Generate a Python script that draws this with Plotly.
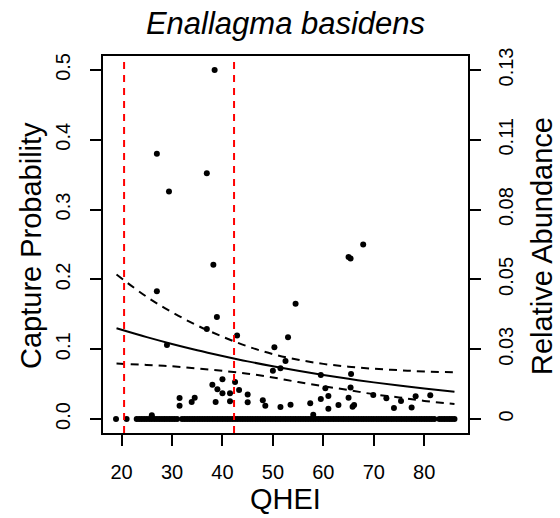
import plotly.graph_objects as go

# sites where the species was not captured (capture probability 0)
zero_qhei = [
    18.9, 21.0,
    23.0, 23.5, 24.0, 24.5, 25.0, 25.5, 26.0, 26.5, 27.0, 27.5, 28.0, 28.5,
    29.0, 29.5, 30.0, 30.5, 31.0,
    32.0, 32.5, 33.0, 33.5, 34.0, 34.5, 35.0, 35.5, 36.0, 36.5, 37.0, 37.5,
    38.0, 38.5, 39.0, 39.5, 40.0, 40.5, 41.0, 41.5, 42.0, 42.5, 43.0, 43.5,
    44.0, 44.5, 45.0, 45.5, 46.0, 46.5, 47.0, 47.5, 48.0, 48.5, 49.0, 49.5,
    50.0, 50.5, 51.0, 51.5, 52.0, 52.5, 53.0, 53.5, 54.0, 54.5, 55.0, 55.5,
    56.0, 56.5, 57.0, 57.5, 58.0, 58.5, 59.0, 59.5, 60.0, 60.5, 61.0, 61.5,
    62.0, 62.5, 63.0, 63.5, 64.0, 64.5, 65.0, 65.5, 66.0, 66.5, 67.0, 67.5,
    68.0, 68.5, 69.0, 69.5, 70.0, 70.5, 71.0, 71.5, 72.0, 72.5, 73.0, 73.5,
    74.0, 74.5, 75.0, 75.5, 76.0, 76.5, 77.0, 77.5, 78.0, 78.5, 79.0, 79.5,
    80.0, 80.5, 81.0, 81.5, 82.0,
    83.0, 83.5, 84.0, 84.5, 85.0, 85.5, 86.0,
]

# sites with captures
pos_qhei = [
    38.45, 27.0, 36.9, 29.4, 67.9, 65.0, 65.4, 38.2, 27.0, 54.5,
    38.9, 36.9, 29.0, 40.0, 38.0, 39.0, 40.0, 31.5, 34.5, 33.9,
    31.5, 38.65, 26.0, 42.9, 53.0, 50.3, 52.5, 51.5, 50.0, 59.5,
    42.5, 43.3, 41.5, 45.0, 60.4, 61.0, 59.5, 41.5, 45.0, 48.0,
    48.5, 51.5, 53.5, 57.4, 58.0, 61.0, 63.0, 65.5, 65.4, 65.0,
    65.8, 66.1, 69.9, 72.5, 75.4, 74.0, 77.5, 78.3, 81.2,
]
pos_prob = [
    0.500, 0.380, 0.352, 0.326, 0.250, 0.232, 0.230, 0.221, 0.183, 0.165,
    0.146, 0.129, 0.106, 0.057, 0.049, 0.0426, 0.037, 0.030, 0.0306, 0.0244,
    0.019, 0.0244, 0.0053, 0.1195, 0.117, 0.103, 0.083, 0.0727, 0.0693, 0.0631,
    0.053, 0.0416, 0.0368, 0.035, 0.044, 0.033, 0.0287, 0.0254, 0.024, 0.0268,
    0.019, 0.0172, 0.0205, 0.0225, 0.0062, 0.0148, 0.020, 0.0646, 0.045, 0.0306,
    0.0177, 0.020, 0.0344, 0.0297, 0.0258, 0.0158, 0.0167, 0.0325, 0.034,
]

# fitted curve and confidence band
curve_qhei = [19, 25, 30, 35, 40, 45, 50, 55, 60, 65, 70, 75, 80, 86]
fit_prob = [0.130, 0.1173, 0.1076, 0.0986, 0.0904, 0.0826, 0.0756,
            0.0691, 0.0631, 0.0576, 0.0525, 0.0479, 0.0437, 0.0390]
upper_prob = [0.207, 0.175, 0.153, 0.134, 0.118, 0.104, 0.093,
              0.085, 0.079, 0.075, 0.072, 0.070, 0.068, 0.067]
lower_prob = [0.0795, 0.0775, 0.0755, 0.0725, 0.069, 0.065, 0.0595,
              0.053, 0.047, 0.0415, 0.0355, 0.031, 0.026, 0.0215]

thresholds = [20.5, 42.3]

x_ticks = [20, 30, 40, 50, 60, 70, 80]
y_ticks = [0.0, 0.1, 0.2, 0.3, 0.4, 0.5]
y_ticktext = ["0.0", "0.1", "0.2", "0.3", "0.4", "0.5"]
abund_ticktext = ["0", "0.03", "0.05", "0.08", "0.11", "0.13"]

FONT = "Liberation Sans, Arial, sans-serif"
x_range = [16.32, 88.68]
y_range = [-0.02, 0.52]

W, H = 560, 518

fig = go.Figure()
fig.add_trace(go.Scatter(
    x=zero_qhei, y=[0.0] * len(zero_qhei), mode="markers",
    marker=dict(color="black", size=6), showlegend=False,
))
fig.add_trace(go.Scatter(
    x=pos_qhei, y=pos_prob, mode="markers",
    marker=dict(color="black", size=6), showlegend=False,
))
fig.add_trace(go.Scatter(
    x=curve_qhei, y=fit_prob, mode="lines", line=dict(color="black", width=2),
    line_shape="spline", showlegend=False,
))
for band in (upper_prob, lower_prob):
    fig.add_trace(go.Scatter(
        x=curve_qhei, y=band, mode="lines", line_shape="spline",
        line=dict(color="black", width=2, dash="8px,6px"), showlegend=False,
    ))
# dummy trace so the right axis gets drawn
fig.add_trace(go.Scatter(x=[None], y=[None], yaxis="y2", showlegend=False))

for t in thresholds:
    fig.add_shape(type="line", x0=t, x1=t, y0=0, y1=1, xref="x", yref="paper",
                  line=dict(color="red", width=2, dash="7px,6px"))

axis_common = dict(
    showgrid=False, zeroline=False, ticks="outside", ticklen=11, tickwidth=1.5,
    tickcolor="black", tickfont=dict(family=FONT, size=20, color="black"),
    showline=True, linecolor="black", linewidth=1.5,
)
fig.update_layout(
    width=W, height=H,
    margin=dict(l=103, r=92, t=56, b=85),
    plot_bgcolor="white", paper_bgcolor="white",
    title=dict(text="<i>Enallagma basidens</i>", x=0.5, xref="paper",
               y=1 - 23 / H, yanchor="middle",
               font=dict(family=FONT, size=31, color="black")),
    xaxis=dict(range=x_range, tickvals=x_ticks, mirror=True,
               ticklabelstandoff=9, **axis_common),
    yaxis=dict(range=y_range, tickvals=y_ticks, ticktext=y_ticktext,
               tickangle=-90, ticklabelstandoff=12, **axis_common),
    yaxis2=dict(range=y_range, tickvals=y_ticks, ticktext=abund_ticktext,
                overlaying="y", side="right", tickangle=-90,
                ticklabelstandoff=8, **axis_common),
)

label_font = dict(family=FONT, size=29, color="black")
fig.add_annotation(text="QHEI", x=0.5, y=(433 - 499) / 377, xref="paper", yref="paper",
                   showarrow=False, xanchor="center", yanchor="middle", font=label_font)
fig.add_annotation(text="Capture Probability", x=(31 - 103) / 365, y=0.496,
                   xref="paper", yref="paper", showarrow=False, textangle=-90,
                   xanchor="center", yanchor="middle", font=label_font)
fig.add_annotation(text="Relative Abundance", x=(542 - 103) / 365, y=0.496,
                   xref="paper", yref="paper", showarrow=False, textangle=-90,
                   xanchor="center", yanchor="middle", font=label_font)

# drop the browser's default 8px body margin so the figure fills the window
fig.write_html("out.html", config={"displayModeBar": False},
               post_script="document.body.style.margin='0';")
